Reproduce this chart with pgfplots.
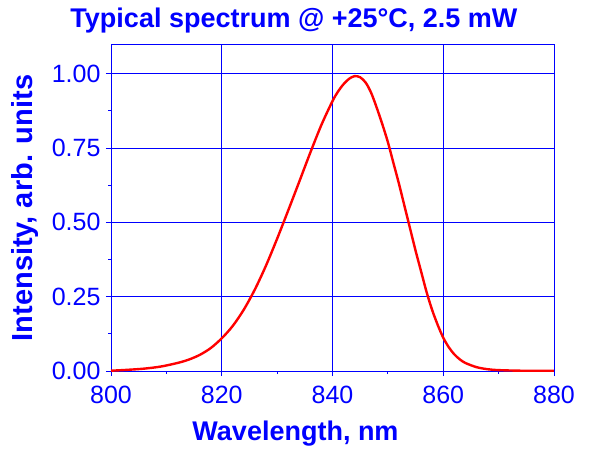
\documentclass[border=0pt]{standalone}
\usepackage{pgfplots}
\pgfplotsset{compat=1.18}
\usepackage{fontspec}
\setmainfont{Liberation Sans}
\begin{document}
\begin{tikzpicture}
\path[use as bounding box] (-111pt,-80pt) rectangle (483pt,371pt);
\begin{axis}[
  scale only axis,
  width=443pt, height=327pt,
  at={(0,0)}, anchor=south west,
  xmin=800, xmax=880,
  ymin=0, ymax=1.1,
  xtick={800,820,...,880},
  ytick={0,0.25,0.5,0.75,1},
  minor x tick num=1,
  minor y tick num=1,
  xmajorgrids, ymajorgrids,
  major grid style={blue, line width=0.8pt},
  axis line style={blue, line width=0.9pt},
  tick style={blue, line width=0.8pt},
  minor tick style={blue, line width=0.8pt},
  major tick length=5pt,
  minor tick length=2.5pt,
  tick align=outside,
  tick pos=left,
  /pgf/number format/assume math mode=true,
  ticklabel style={font=\fontsize{25}{25}\selectfont, text=blue},
  yticklabel style={xshift=-2pt, /pgf/number format/.cd, fixed, fixed zerofill, precision=2},
  xticklabel style={yshift=-7pt, /pgf/number format/.cd, fixed, precision=0, 1000 sep={}},
]
\addplot [red, line width=2.4pt, smooth] table {%
800 0.001
803 0.004
806 0.008
809 0.015
812 0.027
814 0.038
816 0.054
818 0.077
820 0.110
822 0.152
824 0.207
826 0.275
828 0.355
830 0.445
832 0.540
834 0.637
836 0.735
838 0.828
840 0.908
841 0.940
842 0.965
843 0.983
844 0.992
845 0.988
846 0.970
847 0.935
848 0.885
849 0.830
850 0.770
851 0.700
852 0.630
853 0.555
854 0.480
855 0.405
856 0.335
857 0.265
858 0.205
859 0.155
860 0.112
861 0.080
862 0.056
863 0.039
864 0.027
866 0.013
868 0.006
870 0.003
874 0.001
880 0.0003
};
\end{axis}
\node[anchor=base, text=blue, font=\fontsize{27}{27}\bfseries\selectfont] at (183pt,344pt) {Typical spectrum @ +25°C, 2.5 mW};
\node[anchor=base, text=blue, font=\fontsize{27}{27}\bfseries\selectfont] at (184.5pt,-69pt) {Wavelength, nm};
\node[anchor=base, rotate=90, text=blue, font=\fontsize{29}{29}\bfseries\selectfont] at (-78pt,163pt) {Intensity, arb. units};
\end{tikzpicture}
\end{document}
